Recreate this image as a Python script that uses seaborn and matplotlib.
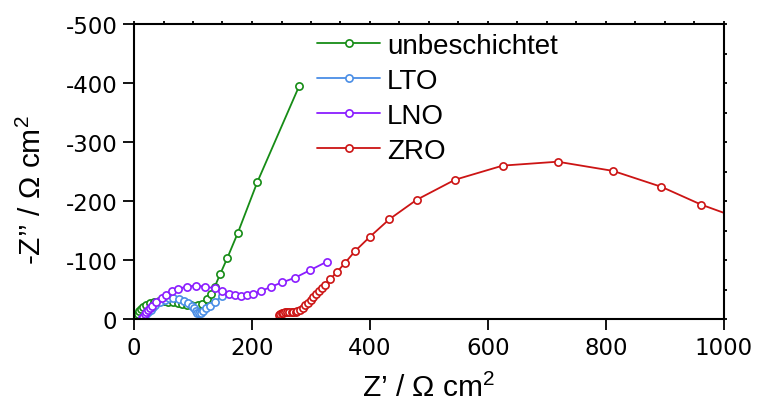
import numpy as np
import pandas as pd
import matplotlib
matplotlib.use("Agg")
import matplotlib.pyplot as plt
from matplotlib.ticker import MultipleLocator, FuncFormatter
import seaborn as sns

sns.set_theme(style="white")
plt.rcParams['font.family'] = ['Liberation Sans', 'DejaVu Sans']
plt.rcParams['mathtext.fontset'] = 'custom'
plt.rcParams['mathtext.rm'] = 'Liberation Sans'
plt.rcParams['mathtext.it'] = 'Liberation Sans:italic'
plt.rcParams['text.color'] = 'black'
plt.rcParams['axes.labelcolor'] = 'black'
plt.rcParams['xtick.color'] = 'black'
plt.rcParams['ytick.color'] = 'black'

labels = ["unbeschichtet", "LTO", "LNO", "ZRO"]
colors = ["#168c16", "#4a8ee6", "#8a1cff", "#cc1414"]

zre_unb = [1, 2, 3, 4, 6, 9, 12, 16, 21, 27, 34, 42, 50, 58, 66, 74, 82, 89, 96, 102,
           108, 116, 124, 130, 137, 146, 158, 176, 209, 280]
zim_unb = [-1, -2, -4, -6, -9, -13, -17, -21, -24, -27, -29, -30, -30, -29.5, -28.5, -27,
           -25, -24, -23, -22, -23, -25, -34, -42, -55, -76, -103, -146, -232, -395]

zre_lto = [14, 17, 20, 24, 28, 32, 36, 44, 52.5, 60, 66, 77, 85, 92, 98, 101.7, 105, 107,
           110, 113, 117.5, 122, 129, 137, 148.6]
zim_lto = [-1, -4, -8, -12, -16, -20, -24, -29, -33, -35, -35.6, -34, -31, -27, -22.6, -18,
           -14, -11, -9.6, -11, -14, -18, -22.6, -29, -38.4]

zre_lno = [13, 15, 18.6, 21, 24, 27, 30, 37, 47, 55, 64, 75, 89, 105, 120, 137, 150, 161.6,
           171, 181, 191, 202, 216, 233, 251, 273, 298, 326.6]
zim_lno = [-1, -3, -8.5, -12, -15, -19, -22.6, -28, -35, -41, -47, -51, -55, -56.5, -55,
           -52, -47, -43, -40.7, -39, -40, -43, -47.5, -55, -62, -70, -82.5, -97]

zre_zro = [246, 248, 250, 253, 256, 260, 263, 267, 270, 274, 277, 281, 286, 290, 295, 299.5,
           304, 308.5, 313, 318, 324, 332, 343.5, 357.6, 374.6, 400, 432.7, 479, 544, 625,
           718, 812, 894, 961, 1030]
zim_zro = [-7.3, -9, -10, -11, -11.9, -12.2, -12.4, -12.4, -12.4, -12.6, -13, -15, -19, -23,
           -27, -31.6, -37, -42, -47, -53, -58, -67, -79, -95, -115, -139.5, -169, -202,
           -236, -260, -266.6, -251, -224, -194, -169]

series = [(zre_unb, zim_unb), (zre_lto, zim_lto), (zre_lno, zim_lno), (zre_zro, zim_zro)]

W, H = 757, 414
fig = plt.figure(figsize=(W / 100, H / 100), dpi=100)
ax = fig.add_axes([134 / W, 1 - 320 / H, (724 - 134) / W, (320 - 25) / H])

for (x, y), lab, c in zip(series, labels, colors):
    df = pd.DataFrame({"x": x, "y": y})
    sns.lineplot(data=df, x="x", y="y", sort=False, estimator=None, ax=ax,
                 color=c, linewidth=1.3, marker="o", markersize=5.2,
                 markerfacecolor="white", markeredgecolor=c, markeredgewidth=1.2,
                 label=lab, clip_on=True)

ax.set_xlim(0, 1000)
ax.set_ylim(0, -500)
ax.xaxis.set_major_locator(MultipleLocator(200))
ax.xaxis.set_minor_locator(MultipleLocator(50))
ax.yaxis.set_major_locator(MultipleLocator(100))
ax.yaxis.set_minor_locator(MultipleLocator(50))
ax.yaxis.set_major_formatter(FuncFormatter(lambda v, p: f"{int(round(v))}"))

for s in ax.spines.values():
    s.set_color("black")
    s.set_linewidth(1.5)

ax.tick_params(which="major", direction="out", length=8, width=1.3, labelsize=16.5,
               colors="black", pad=4)
ax.tick_params(which="minor", direction="out", length=4.5, width=1.3, colors="black")
ax.tick_params(which="both", top=True, right=True)
for t in ax.xaxis.get_ticklines(minor=False)[1::2] + ax.xaxis.get_ticklines(minor=True)[1::2]:
    t.set_markersize(2.5)
for t in ax.yaxis.get_ticklines(minor=False)[1::2] + ax.yaxis.get_ticklines(minor=True)[1::2]:
    t.set_markersize(2.5)
ax.tick_params(labeltop=False, labelright=False, bottom=True, left=True)
for lbl in ax.get_xticklabels() + ax.get_yticklabels():
    lbl.set_fontfamily(['DejaVu Sans'])

ax.set_xlabel("Z’ / Ω cm$^2$", fontsize=21.5, color="black", labelpad=10)
ax.set_ylabel("-Z’’ / Ω cm$^2$", fontsize=21.5, color="black")
ax.yaxis.set_label_coords(-0.148, 0.44)

leg = ax.legend(loc="upper left", bbox_to_anchor=(317 / W, 1 - 34 / H),
                bbox_transform=fig.transFigure, frameon=False, fontsize=20,
                handlelength=2.27, handletextpad=0.25, labelspacing=0.32,
                borderpad=0, borderaxespad=0, numpoints=1, labelcolor="black")

fig.savefig("out.png", dpi=100)
